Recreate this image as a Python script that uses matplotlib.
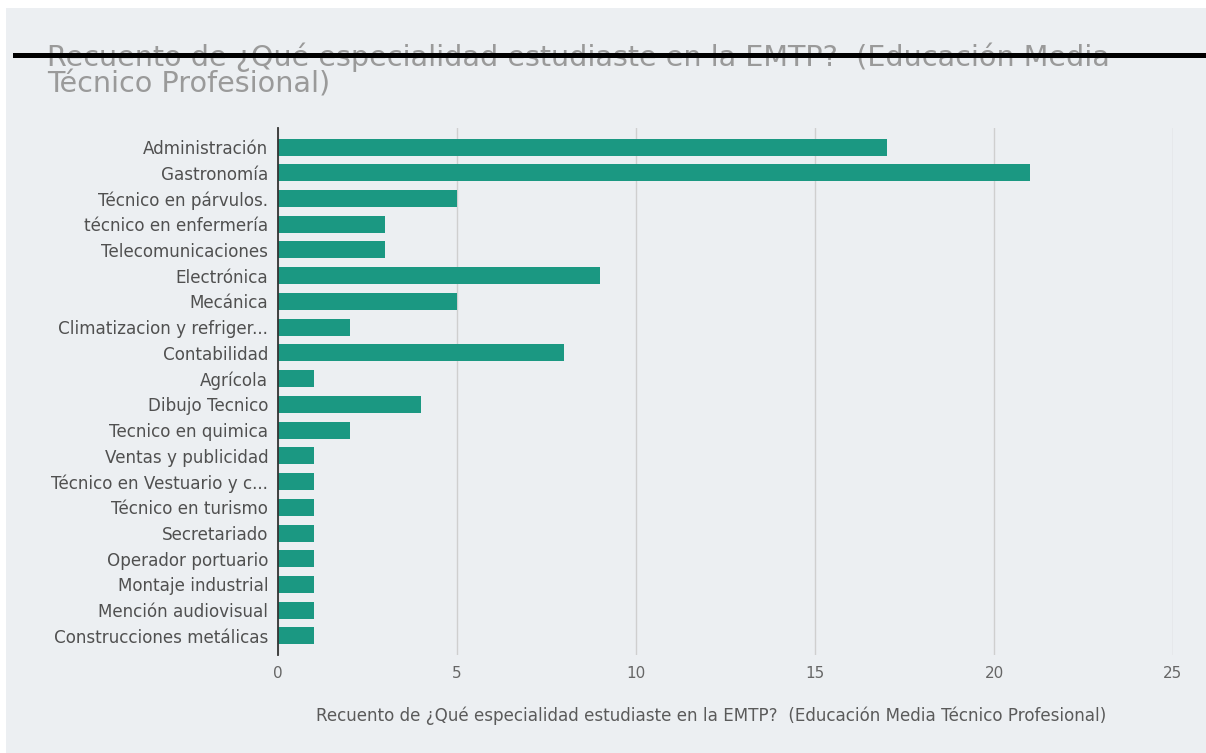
import matplotlib
matplotlib.use("Agg")
import matplotlib.pyplot as plt
from matplotlib.patches import Rectangle
from matplotlib.lines import Line2D

categories = [
    "Administración", "Gastronomía", "Técnico en párvulos.", "técnico en enfermería",
    "Telecomunicaciones", "Electrónica", "Mecánica", "Climatizacion y refriger...",
    "Contabilidad", "Agrícola", "Dibujo Tecnico", "Tecnico en quimica",
    "Ventas y publicidad", "Técnico en Vestuario y c...", "Técnico en turismo",
    "Secretariado", "Operador portuario", "Montaje industrial",
    "Mención audiovisual", "Construcciones metálicas",
]
counts = [17, 21, 5, 3, 3, 9, 5, 2, 8, 1, 4, 2, 1, 1, 1, 1, 1, 1, 1, 1]
xticks = [0, 5, 10, 15, 20, 25]

title = "Recuento de ¿Qué especialidad estudiaste en la EMTP?  (Educación Media\nTécnico Profesional)"
xlabel = "Recuento de ¿Qué especialidad estudiaste en la EMTP?  (Educación Media Técnico Profesional)"

BG = "#eceff2"
BAR = "#1b9882"

fig = plt.figure(figsize=(12.06, 7.53), dpi=100)
fig.patch.set_facecolor(BG)
# thin white margin at top and left
fig.patches.append(Rectangle((0, 1 - 8 / 753), 1, 8 / 753, transform=fig.transFigure,
                             facecolor="white", edgecolor="none", zorder=0))
fig.patches.append(Rectangle((0, 0), 6 / 1206, 1, transform=fig.transFigure,
                             facecolor="white", edgecolor="none", zorder=0))

ax = fig.add_axes([278 / 1206, 1 - 655 / 753, (1173 - 278) / 1206, (655 - 128) / 753])
ax.set_facecolor("none")
ax.set_zorder(2)

y = list(range(len(categories)))
ax.barh(y, counts, height=0.66, color=BAR, zorder=3)

ax.set_xlim(0, 25)
ax.set_ylim(len(categories) - 1 + 0.74, -0.74)
ax.set_yticks(y)
ax.set_yticklabels(categories, fontsize=12.1, color="#505050")
ax.set_xticks(xticks)
ax.set_xticklabels([str(t) for t in xticks], fontsize=11, color="#666666")
ax.tick_params(axis="both", length=0)
ax.tick_params(axis="y", pad=7)
ax.tick_params(axis="x", pad=8)

for s in ["top", "right", "bottom"]:
    ax.spines[s].set_visible(False)
ax.spines["left"].set_color("#333333")
ax.spines["left"].set_linewidth(1.3)
ax.spines["left"].set_zorder(4)

ax.grid(axis="x", color="#cfcfcf", linewidth=1, zorder=1)
ax.set_axisbelow(True)

ax.set_xlabel(xlabel, fontsize=12.1, color="#5a5a5a", va="center")
ax.xaxis.set_label_coords((711 - 278) / 895, -(716 - 655) / 527)

fig.text(47 / 1206, 1 - 42 / 753, title, fontsize=20.6, color="#9a9a9a",
         ha="left", va="top", linespacing=0.95, zorder=5)

fig.lines.append(Line2D([15 / 1206, 1], [1 - 55 / 753, 1 - 55 / 753], transform=fig.transFigure,
                        color="black", linewidth=3.6, zorder=10))

fig.savefig("out.png", dpi=100, facecolor=fig.get_facecolor())
